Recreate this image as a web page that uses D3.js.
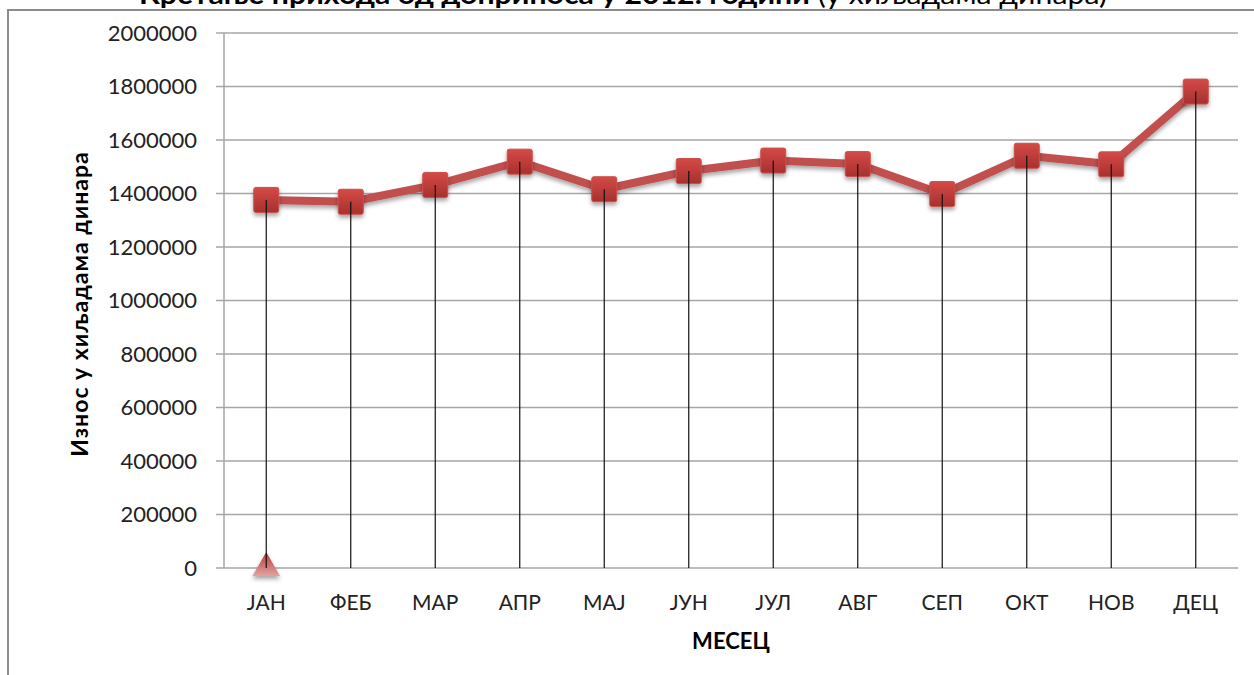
<!DOCTYPE html>
<html>
<head>
<meta charset="utf-8">
<script src="https://cdn.jsdelivr.net/npm/d3@7"></script>
<style>
  body { margin: 0; background: #fff; }
  svg { display: block; font-family: Lato, "Open Sans", sans-serif; }
</style>
</head>
<body>
<div id="chart"></div>
<script>
// Données du graphique
const months = ["ЈАН", "ФЕБ", "МАР", "АПР", "МАЈ", "ЈУН", "ЈУЛ", "АВГ", "СЕП", "ОКТ", "НОВ", "ДЕЦ"];
const income = [1376000, 1369000, 1432000, 1519000, 1416000, 1484000, 1523000, 1510000, 1398000, 1541000, 1509000, 1781000];
const baseSeries = [0]; // deuxième série : seulement JAN à 0
const yTicks = [0, 200000, 400000, 600000, 800000, 1000000, 1200000, 1400000, 1600000, 1800000, 2000000];

const width = 1254, height = 675;
const margin = {left: 224, right: 16, top: 33, bottom: 107};

const svg = d3.select('#chart').append('svg')
  .attr('width', width)
  .attr('height', height);

const defs = svg.append('defs');

// Dégradé des marqueurs carrés
const sqGrad = defs.append('linearGradient').attr('id', 'sqGrad')
  .attr('x1', 0).attr('y1', 0).attr('x2', 0).attr('y2', 1);
sqGrad.append('stop').attr('offset', '0%').attr('stop-color', '#d44a47');
sqGrad.append('stop').attr('offset', '100%').attr('stop-color', '#a8302e');

// Dégradé du triangle
const triGrad = defs.append('linearGradient').attr('id', 'triGrad')
  .attr('x1', 0).attr('y1', 0).attr('x2', 0).attr('y2', 1);
triGrad.append('stop').attr('offset', '0%').attr('stop-color', '#b43a37');
triGrad.append('stop').attr('offset', '100%').attr('stop-color', '#e0a3a1');

const shadow = defs.append('filter').attr('id', 'shadow')
  .attr('x', '-50%').attr('y', '-50%').attr('width', '200%').attr('height', '200%');
shadow.append('feDropShadow')
  .attr('dx', 0).attr('dy', 3).attr('stdDeviation', 2)
  .attr('flood-color', '#000').attr('flood-opacity', 0.35);

// Cadre du graphique
svg.append('rect')
  .attr('x', 8).attr('y', 10)
  .attr('width', width).attr('height', height)
  .attr('fill', 'none')
  .attr('stroke', '#8c8c8c')
  .attr('stroke-width', 2);

// Titre (coupé en haut comme dans l'original)
const title = svg.append('text')
  .attr('transform', 'translate(623, 4) scale(1.12, 1)')
  .attr('text-anchor', 'middle')
  .style('font-size', '27px')
  .attr('fill', '#000');
title.append('tspan').style('font-weight', 'bold').text('Кретање прихода од доприноса у 2012. години');
title.append('tspan').text(' (у хиљадама динара)');

// Échelles
const x = d3.scaleBand()
  .domain(months)
  .range([margin.left, width - margin.right]);

const y = d3.scaleLinear()
  .domain([0, 2000000])
  .range([height - margin.bottom, margin.top]);

// Grille horizontale
svg.append('g')
  .selectAll('line')
  .data(yTicks)
  .join('line')
  .attr('x1', margin.left - 8)
  .attr('x2', width - margin.right)
  .attr('y1', d => y(d))
  .attr('y2', d => y(d))
  .attr('stroke', '#a6a6a6')
  .attr('stroke-width', 1.5);

// Axe Y
svg.append('line')
  .attr('x1', margin.left).attr('x2', margin.left)
  .attr('y1', y(2000000)).attr('y2', y(0))
  .attr('stroke', '#a6a6a6')
  .attr('stroke-width', 1.5);

svg.append('g')
  .selectAll('text')
  .data(yTicks)
  .join('text')
  .attr('x', margin.left - 27)
  .attr('y', d => y(d))
  .attr('dy', '0.36em')
  .attr('text-anchor', 'end')
  .attr('fill', '#222')
  .style('font-size', '22px')
  .text(d => d);

// Libellés des mois
svg.append('g')
  .selectAll('text')
  .data(months)
  .join('text')
  .attr('x', d => x(d) + x.bandwidth() / 2)
  .attr('y', y(0) + 42)
  .attr('text-anchor', 'middle')
  .attr('fill', '#222')
  .style('font-size', '21px')
  .text(d => d);

// Titres des axes
svg.append('text')
  .attr('transform', `translate(88, 304) rotate(-90)`)
  .attr('text-anchor', 'middle')
  .style('font-size', '23px')
  .style('font-weight', 'bold')
  .style('letter-spacing', '1px')
  .text('Износ у хиљадама динара');

svg.append('text')
  .attr('x', 731)
  .attr('y', 649)
  .attr('text-anchor', 'middle')
  .style('font-size', '22px')
  .style('font-weight', 'bold')
  .text('МЕСЕЦ');

const cx = (d, i) => x(months[i]) + x.bandwidth() / 2;

// Ligne de la série
const line = d3.line()
  .x((d, i) => cx(d, i))
  .y(d => y(d));

svg.append('path')
  .datum(income)
  .attr('d', line)
  .attr('fill', 'none')
  .attr('stroke', '#c0504d')
  .attr('stroke-width', 8)
  .attr('stroke-linejoin', 'round')
  .attr('filter', 'url(#shadow)');

// Marqueurs carrés
const size = 25;
svg.append('g')
  .selectAll('rect')
  .data(income)
  .join('rect')
  .attr('x', (d, i) => cx(d, i) - size / 2)
  .attr('y', d => y(d) - size / 2)
  .attr('width', size)
  .attr('height', size)
  .attr('rx', 2)
  .attr('fill', 'url(#sqGrad)')
  .attr('stroke', '#c9514e')
  .attr('stroke-width', 1)
  .attr('filter', 'url(#shadow)');

// Marqueur triangle (deuxième série)
const tri = d3.symbol().type(d3.symbolTriangle).size(330);
svg.append('g')
  .selectAll('path')
  .data(baseSeries)
  .join('path')
  .attr('d', tri)
  .attr('transform', (d, i) => `translate(${cx(d, i)}, ${y(d)})`)
  .attr('fill', 'url(#triGrad)')
  .attr('filter', 'url(#shadow)');

// Lignes de projection (drop lines)
svg.append('g')
  .selectAll('line')
  .data(income)
  .join('line')
  .attr('x1', (d, i) => cx(d, i))
  .attr('x2', (d, i) => cx(d, i))
  .attr('y1', d => y(d))
  .attr('y2', y(0))
  .attr('stroke', '#111')
  .attr('stroke-width', 1.2);
</script>
</body>
</html>
